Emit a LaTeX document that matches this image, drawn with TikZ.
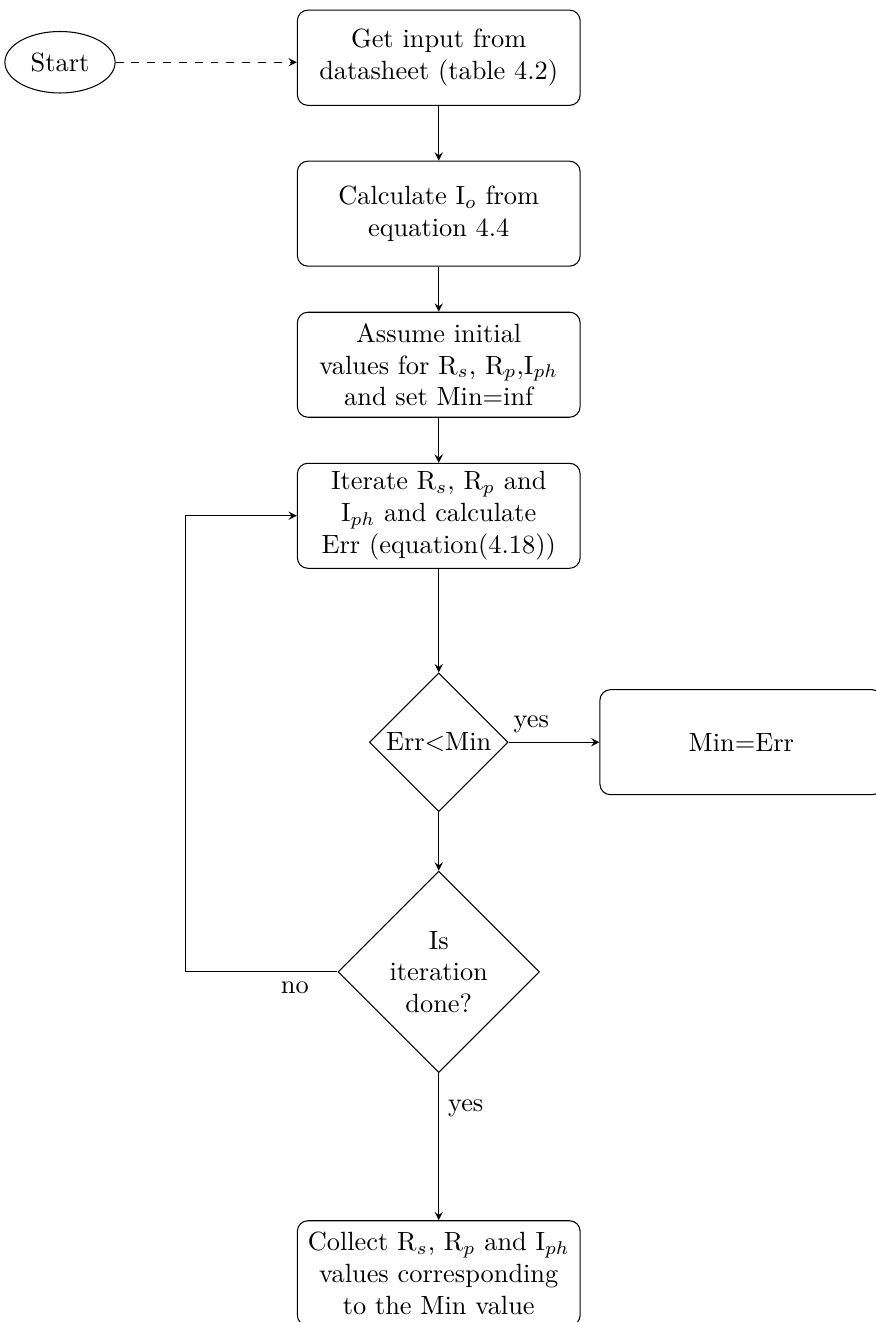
\documentclass[tikz,border=0pt]{standalone}
\usetikzlibrary{shapes.geometric, arrows.meta, positioning, calc}

\begin{document}
\begin{tikzpicture}[
    node distance=0.7cm and 1.2cm,
    box/.style={rectangle, draw, rounded corners, align=center, text width=3.66cm, inner sep=1.5pt, minimum width=3.77cm, minimum height=1.4cm},
    decision/.style={diamond, draw, aspect=1, align=center, inner sep=0pt},
    startnode/.style={ellipse, draw, minimum width=1.47cm, minimum height=0.82cm},
    arrow/.style={-stealth}
]
\useasboundingbox (0,0) rectangle (11.667,-17.627);

% 1. Start and input
\node[box, minimum height=1.27cm] (input) at (5.85,-0.77) {Get input from\\ datasheet (table 4.2)};
\node[startnode] (start) at (0.8,-0.83) {Start};

% 2. Set-up boxes
\node[box, below=0.73cm of input] (calcio) {Calculate I$_o$ from\\ equation 4.4};
\node[box, below=0.6cm of calcio] (assume) {Assume initial\\ values for R$_s$, R$_p$,I$_{ph}$\\ and set Min=inf};
\node[box, below=0.6cm of assume] (iterate) {Iterate R$_s$, R$_p$ and\\ I$_{ph}$ and calculate\\ Err (equation(4.18))};

% 3. Decisions
\node[decision, minimum width=1.85cm, minimum height=1.85cm, below=1.38cm of iterate] (errmin) {Err$<$Min};
\node[box, right=1.21cm of errmin] (setmin) {Min=Err};
\node[decision, text width=1.6cm, minimum width=2.68cm, minimum height=2.68cm, below=0.78cm of errmin] (done) {Is\\ iteration\\ done?};

% 4. Output
\node[box, below=1.96cm of done] (collect) {Collect R$_s$, R$_p$ and I$_{ph}$\\ values corresponding\\ to the Min value};

% 5. Connections
\draw[arrow, dashed] (start) -- (start -| input.west);
\draw[arrow] (input) -- (calcio);
\draw[arrow] (calcio) -- (assume);
\draw[arrow] (assume) -- (iterate);
\draw[arrow] (iterate) -- (errmin);
\draw[arrow] (errmin) -- node[pos=0.25, above] {yes} (setmin);
\draw[arrow] (errmin) -- (done);
\draw[arrow] (done.west) -- node[pos=0.28, below] {no} ++(-2.03,0) |- (iterate.west);
\draw[arrow] (done) -- node[pos=0.24, right] {yes} (collect);

\end{tikzpicture}
\end{document}
